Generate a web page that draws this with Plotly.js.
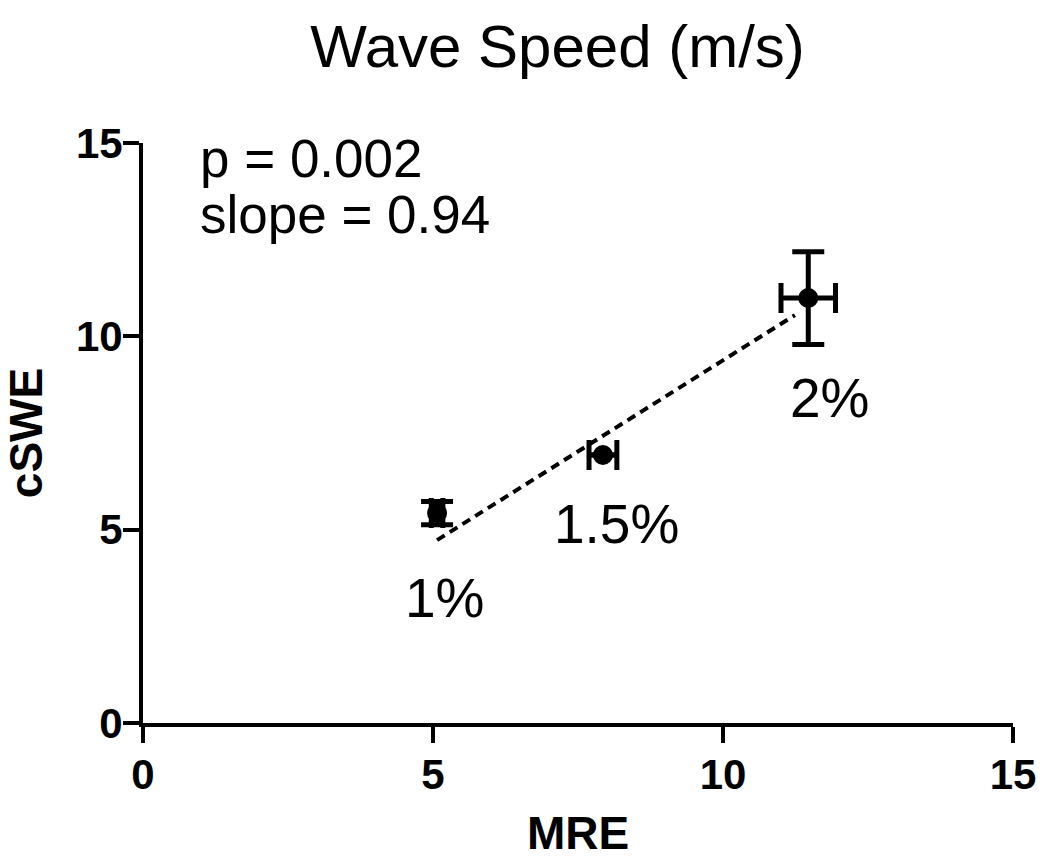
<!DOCTYPE html>
<html>
<head>
<meta charset="utf-8">
<script src="https://cdn.plot.ly/plotly-3.0.1.min.js"></script>
<style>html,body{margin:0;padding:0;background:#fff;}#chart{width:1050px;height:862px;}</style>
</head>
<body>
<div id="chart"></div>
<script>
// Data
const labels = ["1%", "1.5%", "2%"];
const mre = [5.07, 7.93, 11.47];          // x (MRE)
const mreErr = [0.1, 0.24, 0.47];
const cswe = [5.43, 6.93, 10.99];         // y (cSWE)
const csweErr = [0.3, 0.0, 1.2];
const fitX = [5.07, 11.24];
const fitY = [4.73, 10.55];
const labelX = [5.2, 8.17, 11.84];
const labelY = [3.23, 5.15, 8.4];
const xTicks = [0, 5, 10, 15];
const yTicks = [0, 5, 10, 15];
const statsText = ["p = 0.002", "slope = 0.94"];
const statsX = [0.95, 0.95];
const statsY = [14.6, 13.15];

const FONT = "Liberation Sans, Arial, sans-serif";

const traces = [
  {
    x: fitX, y: fitY, mode: "lines", type: "scatter",
    line: {color: "#000", width: 4, dash: "9px,6px"},
    hoverinfo: "skip", showlegend: false
  },
  {
    x: mre, y: cswe, mode: "markers", type: "scatter",
    marker: {color: "#000", size: 20, symbol: "circle"},
    error_x: {type: "data", array: mreErr, visible: true, color: "#000", thickness: 5, width: 15},
    error_y: {type: "data", array: csweErr, visible: true, color: "#000", thickness: 5, width: 16},
    showlegend: false
  }
];

const annotations = [];
labels.forEach((t, i) => annotations.push({
  x: labelX[i], y: labelY[i], xref: "x", yref: "y", text: t, showarrow: false,
  font: {family: FONT, size: 55, color: "#000"}, xanchor: "center", yanchor: "middle"
}));
statsText.forEach((t, i) => annotations.push({
  x: statsX[i], y: statsY[i], xref: "x", yref: "y", text: t, showarrow: false,
  font: {family: FONT, size: 53, color: "#000"}, xanchor: "left", yanchor: "middle"
}));

const axisCommon = {
  range: [0, 15], showgrid: false, zeroline: false, showline: true,
  linecolor: "#000", linewidth: 4, ticks: "outside", ticklen: 16, tickwidth: 4,
  tickcolor: "#000", tickfont: {family: FONT, size: 42, color: "#000", weight: "bold"},
  fixedrange: true
};

const layout = {
  width: 1050, height: 862,
  paper_bgcolor: "#fff", plot_bgcolor: "#fff",
  margin: {l: 143, r: 37, t: 143, b: 139},
  title: {text: "Wave Speed (m/s)", x: 0.531, xanchor: "center", y: 0.947, yanchor: "middle",
          font: {family: FONT, size: 60, color: "#000"}},
  xaxis: Object.assign({}, axisCommon, {
    tickvals: xTicks, ticktext: xTicks.map(String), ticklabelstandoff: -4,
    title: {text: "MRE", font: {family: FONT, size: 46, color: "#000", weight: "bold"}, standoff: 20}
  }),
  yaxis: Object.assign({}, axisCommon, {
    tickvals: yTicks, ticktext: yTicks.map(String), ticklabelstandoff: -8,
    title: {text: "cSWE", font: {family: FONT, size: 46, color: "#000", weight: "bold"}, standoff: 25}
  }),
  annotations: annotations,
  showlegend: false
};

Plotly.newPlot("chart", traces, layout, {displayModeBar: false, staticPlot: true});
</script>
</body>
</html>
